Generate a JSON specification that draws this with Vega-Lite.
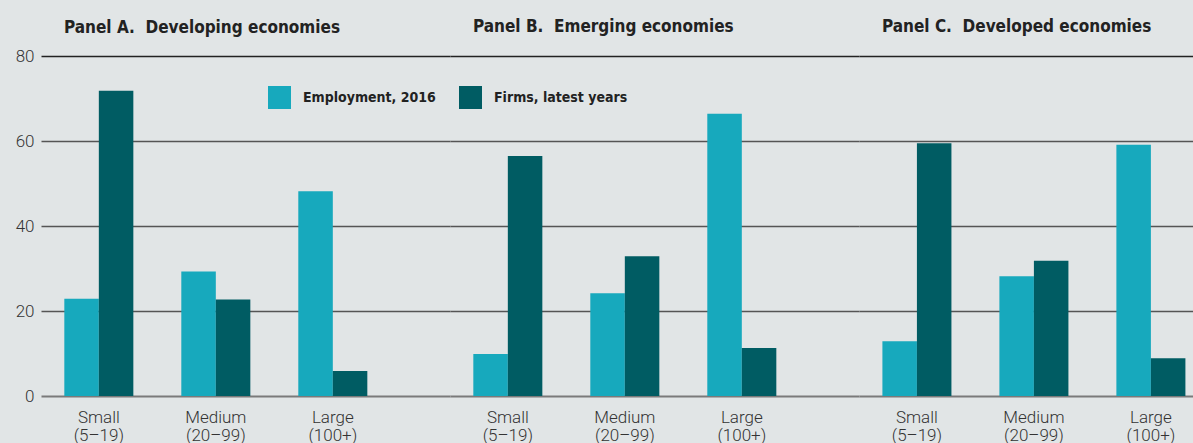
{
  "$schema": "https://vega.github.io/schema/vega-lite/v6.json",
  "background": "#e1e5e6",
  "padding": {"left": 15, "top": 18, "right": 0, "bottom": 0},
  "bounds": "flush",
  "spacing": 0,
  "data": {
    "values": [
      {"panel": "A", "size": "Small (5–19)", "series": "Employment, 2016", "value": 22.9},
      {"panel": "A", "size": "Small (5–19)", "series": "Firms, latest years", "value": 71.8},
      {"panel": "A", "size": "Medium (20–99)", "series": "Employment, 2016", "value": 29.3},
      {"panel": "A", "size": "Medium (20–99)", "series": "Firms, latest years", "value": 22.7},
      {"panel": "A", "size": "Large (100+)", "series": "Employment, 2016", "value": 48.2},
      {"panel": "A", "size": "Large (100+)", "series": "Firms, latest years", "value": 5.9},
      {"panel": "B", "size": "Small (5–19)", "series": "Employment, 2016", "value": 9.9},
      {"panel": "B", "size": "Small (5–19)", "series": "Firms, latest years", "value": 56.5},
      {"panel": "B", "size": "Medium (20–99)", "series": "Employment, 2016", "value": 24.2},
      {"panel": "B", "size": "Medium (20–99)", "series": "Firms, latest years", "value": 32.9},
      {"panel": "B", "size": "Large (100+)", "series": "Employment, 2016", "value": 66.4},
      {"panel": "B", "size": "Large (100+)", "series": "Firms, latest years", "value": 11.3},
      {"panel": "C", "size": "Small (5–19)", "series": "Employment, 2016", "value": 12.9},
      {"panel": "C", "size": "Small (5–19)", "series": "Firms, latest years", "value": 59.5},
      {"panel": "C", "size": "Medium (20–99)", "series": "Employment, 2016", "value": 28.2},
      {"panel": "C", "size": "Medium (20–99)", "series": "Firms, latest years", "value": 31.8},
      {"panel": "C", "size": "Large (100+)", "series": "Employment, 2016", "value": 59.1},
      {"panel": "C", "size": "Large (100+)", "series": "Firms, latest years", "value": 8.9}
    ]
  },
  "hconcat": [
    {
      "width": 409,
      "height": 340,
      "title": {"text": "Panel A.\u00a0 Developing economies", "offset": 10},
      "transform": [{"filter": "datum.panel === 'A'"}],
      "mark": {"type": "bar"},
      "encoding": {
        "x": {
          "field": "size", "type": "nominal",
          "sort": ["Small (5–19)", "Medium (20–99)", "Large (100+)"],
          "scale": {"paddingInner": 0.41, "paddingOuter": 0.453, "align": 0.22},
          "axis": {"title": null, "ticks": false, "domain": false, "grid": false, "labelAngle": 0, "labelPadding": 13, "labelExpr": "split(datum.label, ' ')", "labelFont": "Roboto", "labelFontWeight": 300, "labelFontSize": 17, "labelColor": "#333333", "labelLineHeight": 18}
        },
        "xOffset": {"field": "series", "type": "nominal", "sort": ["Employment, 2016", "Firms, latest years"], "scale": {"paddingInner": 0, "paddingOuter": 0}},
        "y": {
          "field": "value", "type": "quantitative",
          "scale": {"domain": [0, 80], "nice": false},
          "axis": {"values": [0, 20, 40, 60, 80], "title": null, "ticks": false, "domain": false, "grid": true, "labelPadding": 7, "labelFont": "Roboto", "labelFontWeight": 300, "labelFontSize": 17, "labelColor": "#333333",
            "gridColor": {"condition": [{"test": "datum.value === 80", "value": "#222222"}, {"test": "datum.value === 0", "value": "#7a7a7a"}], "value": "#555555"},
            "gridWidth": {"condition": {"test": "datum.value === 0", "value": 2}, "value": 1.3}}
        },
        "color": {
          "field": "series", "type": "nominal",
          "scale": {"domain": ["Employment, 2016", "Firms, latest years"], "range": ["#17a9bd", "#005c63"]},
          "legend": {"orient": "none", "legendX": 227, "legendY": 30, "direction": "horizontal", "title": null, "symbolType": "square", "symbolSize": 529, "symbolStrokeWidth": 0, "symbolOpacity": 1, "labelFont": "DejaVu Sans Condensed, Roboto, sans-serif", "labelFontSize": 14, "labelFontWeight": "bold", "labelColor": "#222222", "labelOffset": 12, "columnPadding": 23, "padding": 0}
        }
      }
    },
    {
      "width": 409,
      "height": 340,
      "title": {"text": "Panel B.\u00a0 Emerging economies", "offset": 20},
      "transform": [{"filter": "datum.panel === 'B'"}],
      "mark": {"type": "bar"},
      "encoding": {
        "x": {
          "field": "size", "type": "nominal",
          "sort": ["Small (5–19)", "Medium (20–99)", "Large (100+)"],
          "scale": {"paddingInner": 0.41, "paddingOuter": 0.453, "align": 0.22},
          "axis": {"title": null, "ticks": false, "domain": false, "grid": false, "labelAngle": 0, "labelPadding": 13, "labelExpr": "split(datum.label, ' ')", "labelFont": "Roboto", "labelFontWeight": 300, "labelFontSize": 17, "labelColor": "#333333", "labelLineHeight": 18}
        },
        "xOffset": {"field": "series", "type": "nominal", "sort": ["Employment, 2016", "Firms, latest years"], "scale": {"paddingInner": 0, "paddingOuter": 0}},
        "y": {
          "field": "value", "type": "quantitative",
          "scale": {"domain": [0, 80], "nice": false},
          "axis": {"values": [0, 20, 40, 60, 80], "title": null, "ticks": false, "domain": false, "labels": false, "grid": true, "minExtent": 0, "maxExtent": 0,
            "gridColor": {"condition": [{"test": "datum.value === 80", "value": "#222222"}, {"test": "datum.value === 0", "value": "#7a7a7a"}], "value": "#555555"},
            "gridWidth": {"condition": {"test": "datum.value === 0", "value": 2}, "value": 1.3}}
        },
        "color": {
          "field": "series", "type": "nominal",
          "scale": {"domain": ["Employment, 2016", "Firms, latest years"], "range": ["#17a9bd", "#005c63"]},
          "legend": null
        }
      }
    },
    {
      "width": 334,
      "height": 340,
      "title": {"text": "Panel C.\u00a0 Developed economies", "offset": 20},
      "transform": [{"filter": "datum.panel === 'C'"}],
      "mark": {"type": "bar"},
      "encoding": {
        "x": {
          "field": "size", "type": "nominal",
          "sort": ["Small (5–19)", "Medium (20–99)", "Large (100+)"],
          "scale": {"paddingInner": 0.41, "paddingOuter": 0.1325, "align": 0.755},
          "axis": {"title": null, "ticks": false, "domain": false, "grid": false, "labelAngle": 0, "labelPadding": 13, "labelExpr": "split(datum.label, ' ')", "labelFont": "Roboto", "labelFontWeight": 300, "labelFontSize": 17, "labelColor": "#333333", "labelLineHeight": 18}
        },
        "xOffset": {"field": "series", "type": "nominal", "sort": ["Employment, 2016", "Firms, latest years"], "scale": {"paddingInner": 0, "paddingOuter": 0}},
        "y": {
          "field": "value", "type": "quantitative",
          "scale": {"domain": [0, 80], "nice": false},
          "axis": {"values": [0, 20, 40, 60, 80], "title": null, "ticks": false, "domain": false, "labels": false, "grid": true, "minExtent": 0, "maxExtent": 0,
            "gridColor": {"condition": [{"test": "datum.value === 80", "value": "#222222"}, {"test": "datum.value === 0", "value": "#7a7a7a"}], "value": "#555555"},
            "gridWidth": {"condition": {"test": "datum.value === 0", "value": 2}, "value": 1.3}}
        },
        "color": {
          "field": "series", "type": "nominal",
          "scale": {"domain": ["Employment, 2016", "Firms, latest years"], "range": ["#17a9bd", "#005c63"]},
          "legend": null
        }
      }
    }
  ],
  "resolve": {"scale": {"color": "independent", "x": "independent", "y": "independent"}, "legend": {"color": "independent"}},
  "config": {
    "view": {"stroke": null},
    "title": {"anchor": "start", "frame": "group", "dx": 23, "font": "DejaVu Sans Condensed, Roboto, sans-serif", "fontSize": 17, "fontWeight": "bold", "color": "#222222", "baseline": "alphabetic"}
  }
}
